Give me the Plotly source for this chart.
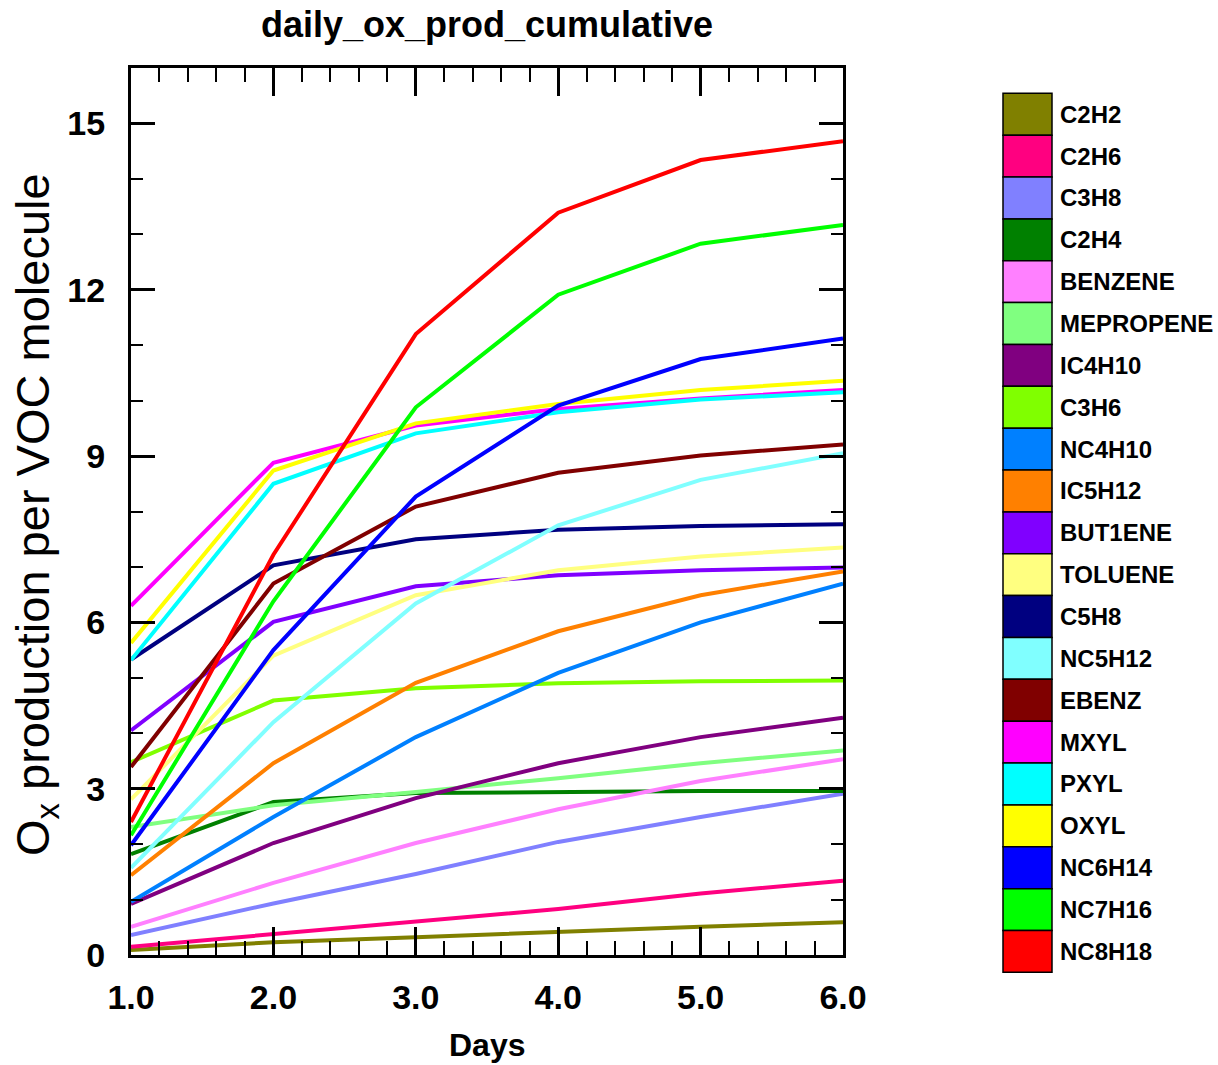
import plotly.graph_objects as go

days = [1.0, 2.0, 3.0, 4.0, 5.0, 6.0]

species = ["C2H2", "C2H6", "C3H8", "C2H4", "BENZENE", "MEPROPENE", "IC4H10",
           "C3H6", "NC4H10", "IC5H12", "BUT1ENE", "TOLUENE", "C5H8", "NC5H12",
           "EBENZ", "MXYL", "PXYL", "OXYL", "NC6H14", "NC7H16", "NC8H18"]

colors = ["#808000", "#FF0080", "#8080FF", "#008000", "#FF80FF", "#80FF80",
          "#800080", "#80FF00", "#0080FF", "#FF8000", "#8000FF", "#FFFF80",
          "#000080", "#80FFFF", "#800000", "#FF00FF", "#00FFFF", "#FFFF00",
          "#0000FF", "#00FF00", "#FF0000"]

C2H2 = [0.09, 0.23, 0.32, 0.42, 0.51, 0.59]
C2H6 = [0.15, 0.38, 0.61, 0.83, 1.11, 1.34]
C3H8 = [0.36, 0.93, 1.46, 2.04, 2.49, 2.91]
C2H4 = [1.82, 2.76, 2.92, 2.94, 2.96, 2.96]
BENZENE = [0.51, 1.30, 2.02, 2.63, 3.14, 3.53]
MEPROPENE = [2.31, 2.70, 2.94, 3.19, 3.46, 3.69]
IC4H10 = [0.92, 2.02, 2.83, 3.46, 3.93, 4.28]
C3H6 = [3.48, 4.59, 4.81, 4.90, 4.94, 4.95]
NC4H10 = [0.96, 2.49, 3.93, 5.09, 6.00, 6.70]
IC5H12 = [1.44, 3.46, 4.91, 5.84, 6.49, 6.92]
BUT1ENE = [4.05, 6.01, 6.65, 6.85, 6.94, 6.99]
TOLUENE = [2.81, 5.40, 6.49, 6.94, 7.19, 7.35]
C5H8 = [5.33, 7.03, 7.50, 7.67, 7.74, 7.77]
NC5H12 = [1.57, 4.20, 6.34, 7.75, 8.57, 9.05]
EBENZ = [3.39, 6.70, 8.09, 8.70, 9.01, 9.21]
MXYL = [6.30, 8.88, 9.55, 9.85, 10.04, 10.19]
PXYL = [5.32, 8.50, 9.41, 9.79, 10.02, 10.15]
OXYL = [5.63, 8.74, 9.59, 9.94, 10.19, 10.36]
NC6H14 = [1.98, 5.50, 8.27, 9.91, 10.75, 11.12]
NC7H16 = [2.16, 6.38, 9.88, 11.91, 12.83, 13.17]
NC8H18 = [2.40, 7.22, 11.20, 13.39, 14.34, 14.68]

series = [C2H2, C2H6, C3H8, C2H4, BENZENE, MEPROPENE, IC4H10, C3H6, NC4H10,
          IC5H12, BUT1ENE, TOLUENE, C5H8, NC5H12, EBENZ, MXYL, PXYL, OXYL,
          NC6H14, NC7H16, NC8H18]

y_ticks = [0, 3, 6, 9, 12, 15]

W, H = 1218, 1065
ML, MR, MT, MB = 131, 375, 68, 110
PW, PH = W - ML - MR, H - MT - MB

FONT = "Liberation Sans, Arial, Helvetica, sans-serif"

fig = go.Figure()
for name, vals, col in zip(species, series, colors):
    fig.add_trace(go.Scatter(x=days, y=vals, mode="lines", name=name,
                             line=dict(color=col, width=4), showlegend=False))

# custom legend (colored boxes + labels)
def px_to_paper_x(px):
    return (px - ML) / PW

def px_to_paper_y(py):
    return (H - MB - py) / PH

box_left, box_right = 1003, 1052
top0, row_h = 93.3, 41.86
for i, (name, col) in enumerate(zip(species, colors)):
    y0 = top0 + i * row_h
    y1 = y0 + row_h
    fig.add_shape(type="rect", xref="paper", yref="paper",
                  x0=px_to_paper_x(box_left), x1=px_to_paper_x(box_right),
                  y0=px_to_paper_y(y1), y1=px_to_paper_y(y0),
                  fillcolor=col, line=dict(color="black", width=1.5))
    fig.add_annotation(xref="paper", yref="paper",
                       x=px_to_paper_x(1058), y=px_to_paper_y((y0 + y1) / 2),
                       xanchor="left", yanchor="middle", showarrow=False,
                       text=name,
                       font=dict(family=FONT, size=24, color="black", weight="bold"))

# axis titles as annotations (fixed positions)
fig.add_annotation(xref="paper", yref="paper", x=0.5, y=px_to_paper_y(1045),
                   xanchor="center", yanchor="middle", showarrow=False,
                   text="Days",
                   font=dict(family=FONT, size=32, color="black", weight="bold"))
fig.add_annotation(xref="paper", yref="paper", x=px_to_paper_x(36), y=px_to_paper_y(515),
                   xanchor="center", yanchor="middle", showarrow=False, textangle=-90,
                   text="O<sub>x</sub> production per VOC molecule",
                   font=dict(family=FONT, size=47, color="black"))

fig.update_layout(
    width=W, height=H,
    margin=dict(l=ML, r=MR, t=MT, b=MB, autoexpand=False),
    paper_bgcolor="white", plot_bgcolor="white",
    title=dict(text="daily_ox_prod_cumulative", x=(ML + PW / 2) / W,
               xanchor="center", y=1 - 24 / H, yanchor="middle",
               font=dict(family=FONT, size=36, color="black", weight="bold")),
    font=dict(family=FONT, color="black"),
)

fig.update_xaxes(
    range=[1, 6], tickvals=days, tickformat=".1f", automargin=False,
    ticks="inside", ticklen=28, tickwidth=3, tickcolor="black",
    minor=dict(ticks="inside", ticklen=14, tickwidth=2, dtick=0.2, tickcolor="black"),
    showline=True, linewidth=3, linecolor="black", mirror="allticks",
    showgrid=False, zeroline=False,
    tickfont=dict(family=FONT, size=34, color="black", weight="bold"),
    ticklabelstandoff=10,
)
fig.update_yaxes(
    range=[0, 16], tickvals=y_ticks, automargin=False,
    ticks="inside", ticklen=24, tickwidth=3, tickcolor="black",
    minor=dict(ticks="inside", ticklen=12, tickwidth=2, dtick=1, tickcolor="black"),
    showline=True, linewidth=3, linecolor="black", mirror="allticks",
    showgrid=False, zeroline=False,
    tickfont=dict(family=FONT, size=34, color="black", weight="bold"),
    ticklabelstandoff=16,
)

fig.write_html("out.html")
